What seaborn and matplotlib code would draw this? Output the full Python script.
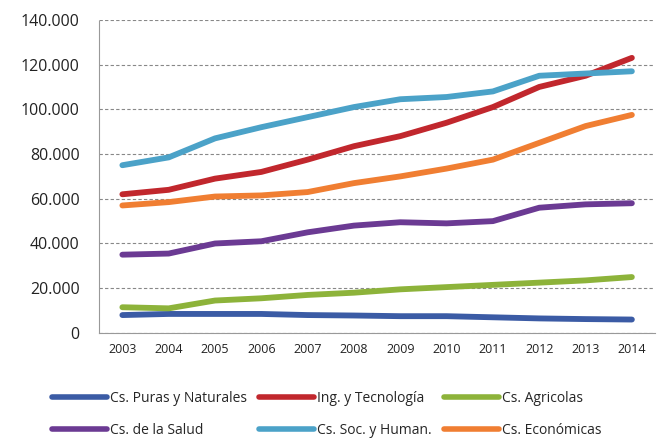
import numpy as np
import pandas as pd
import matplotlib
matplotlib.use("Agg")
import matplotlib.pyplot as plt
import seaborn as sns
from matplotlib.ticker import FuncFormatter

# Data
years = [2003, 2004, 2005, 2006, 2007, 2008, 2009, 2010, 2011, 2012, 2013, 2014]
puras = [8000, 8500, 8500, 8500, 8000, 7800, 7500, 7500, 7000, 6500, 6200, 6000]
ingenieria = [62000, 64000, 69000, 72000, 77500, 83500, 88000, 94000, 101000, 110000, 115000, 123000]
agricolas = [11500, 11000, 14500, 15500, 17000, 18000, 19500, 20500, 21500, 22500, 23500, 25000]
salud = [35000, 35500, 40000, 41000, 45000, 48000, 49500, 49000, 50000, 56000, 57500, 58000]
sociales = [75000, 78500, 87000, 92000, 96500, 101000, 104500, 105500, 108000, 115000, 116000, 117000]
economicas = [57000, 58500, 61000, 61500, 63000, 67000, 70000, 73500, 77500, 85000, 92500, 97500]

names = ["Cs. Puras y Naturales", "Ing. y Tecnología", "Cs. Agricolas",
         "Cs. de la Salud", "Cs. Soc. y Human.", "Cs. Económicas"]
series = [puras, ingenieria, agricolas, salud, sociales, economicas]
colors = ["#3B5BA5", "#C1272D", "#8DB33A", "#6B3A93", "#4BA2C8", "#F07E32"]

df = pd.DataFrame({
    "pos": np.tile(np.arange(len(years)), len(names)),
    "valor": np.concatenate(series),
    "area": np.repeat(names, len(years)),
})

sns.set_style("white")
plt.rcParams["font.family"] = ["Open Sans", "DejaVu Sans"]

fig = plt.figure(figsize=(6.57, 4.41), dpi=100)
ax = fig.add_axes([0.151, 0.245, 0.846, 0.71])

sns.lineplot(data=df, x="pos", y="valor", hue="area", hue_order=names,
             palette=colors, linewidth=4.2, ax=ax, legend=False,
             solid_capstyle="round")

ax.set_xlim(-0.5, len(years) - 0.5)
ax.set_ylim(0, 140000)
ax.set_yticks(range(0, 140001, 20000))
ax.yaxis.set_major_formatter(FuncFormatter(lambda v, p: f"{int(v):,}".replace(",", ".")))
ax.set_xticks(range(len(years)))
ax.set_xticklabels([str(y) for y in years])
ax.tick_params(axis="y", labelsize=11.5, colors="#222222", length=0, pad=14)
ax.tick_params(axis="x", labelsize=9, colors="#222222", length=0, pad=7)
ax.set_xlabel("")
ax.set_ylabel("")

ax.yaxis.grid(True, color="#888888", linestyle=(0, (3, 2)), linewidth=0.8)
ax.set_axisbelow(True)
for s in ["top", "right"]:
    ax.spines[s].set_visible(False)
ax.spines["left"].set_color("#999999")
ax.spines["left"].set_linestyle((0, (2, 1)))
ax.spines["bottom"].set_color("#999999")

# legend grid: matplotlib fills by column, so reorder for the Excel row order
handles = [plt.Line2D([], [], color=c, linewidth=4) for c in colors]
order = [0, 3, 1, 4, 2, 5]
fig.legend([handles[i] for i in order], [names[i] for i in order],
           ncol=3, loc="center left", bbox_to_anchor=(0.079, 0.060),
           frameon=False, fontsize=10, handlelength=3.95, handletextpad=0.22,
           columnspacing=0.9, labelspacing=1.25, borderpad=0, borderaxespad=0)

fig.savefig("out.png", dpi=100)
